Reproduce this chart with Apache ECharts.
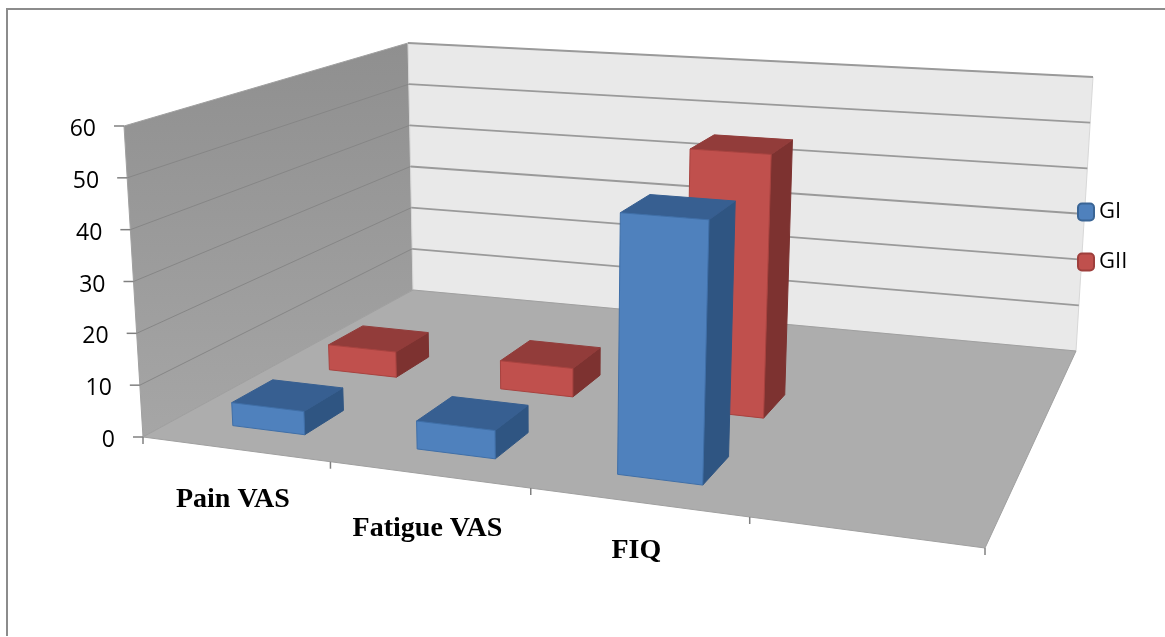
<!DOCTYPE html>
<html>

<head>
    <meta charset="utf-8">
    <title>Pain VAS, Fatigue VAS, FIQ</title>
    <script src="https://cdnjs.cloudflare.com/ajax/libs/echarts/6.0.0/echarts.min.js"></script>
    <style>
        html, body { margin: 0; padding: 0; background: #fff; overflow: hidden; }
    </style>
</head>

<body>
    <div id="main" style="width: 1165px;height:637px;"></div>
    <script type="text/javascript">
    // data
    var categories = ['Pain VAS', 'Fatigue VAS', 'FIQ', ''];
    var valueTicks = [0, 10, 20, 30, 40, 50, 60];
    var giValues = [4.5, 5.3, 48, null];
    var giiValues = [5.3, 5.8, 52.2, null];

    // -----box layout, corners of the floor and of the top of the box
    // order: front left, front right, back right, back left
    var floorCorners = [[143, 437], [985, 548], [1076, 351], [413, 290]];
    var topCorners = [[124, 126], [1010, 190], [1093, 77], [408, 43]];
    var rowCount = 3;       // the sheet has a third, empty depth row
    var barShare = 0.4;     // bar size inside its cell
    var catNudge = 0.005;   // inner ticks and bars sit a little right of the even split
    var catLabelDrop = [51, 55, 49];
    var catLabelShift = [0, 3, 3];

    function quad(c) {
        var dx1 = c[1][0] - c[2][0], dx2 = c[3][0] - c[2][0], sx = c[0][0] - c[1][0] + c[2][0] - c[3][0];
        var dy1 = c[1][1] - c[2][1], dy2 = c[3][1] - c[2][1], sy = c[0][1] - c[1][1] + c[2][1] - c[3][1];
        var den = dx1 * dy2 - dx2 * dy1;
        var g = (sx * dy2 - dx2 * sy) / den;
        var h = (dx1 * sy - sx * dy1) / den;
        return function (u, v) {
            var w = g * u + h * v + 1;
            return [
                ((c[1][0] - c[0][0] + g * c[1][0]) * u + (c[3][0] - c[0][0] + h * c[3][0]) * v + c[0][0]) / w,
                ((c[1][1] - c[0][1] + g * c[1][1]) * u + (c[3][1] - c[0][1] + h * c[3][1]) * v + c[0][1]) / w
            ];
        };
    }
    var floorAt = quad(floorCorners);
    var topAt = quad(topCorners);

    // u along categories, v into depth, t up the value axis (all 0..1)
    function project(u, v, t) {
        var a = floorAt(u, v), b = topAt(u, v);
        return [a[0] + (b[0] - a[0]) * t, a[1] + (b[1] - a[1]) * t];
    }

    // the hidden grid gives u and t from the axis scales
    function toBox(params, api, cat, val) {
        var cs = params.coordSys;
        var p = api.coord([cat, val]);
        return { u: (p[0] - cs.x) / cs.width, t: (cs.y + cs.height - p[1]) / cs.height };
    }

    function poly(points, fill, stroke) {
        return {
            type: 'polygon',
            shape: { points: points },
            style: { fill: fill, stroke: stroke || fill, lineWidth: 1 }
        };
    }

    function line(a, b, color, width) {
        return {
            type: 'line',
            shape: { x1: a[0], y1: a[1], x2: b[0], y2: b[1] },
            style: { stroke: color, lineWidth: width }
        };
    }

    function renderBox(params, api) {
        var kids = [];
        var tickY = valueTicks.map(function (tick) { return toBox(params, api, 0, tick).t; });
        var lastCat = categories.length;

        kids.push(poly([project(0, 0, 0), project(0, 1, 0), project(0, 1, 1), project(0, 0, 1)], {
            type: 'linear', x: 0, y: 0, x2: 0, y2: 1,
            colorStops: [{ offset: 0, color: '#8f8f8f' }, { offset: 1, color: '#a6a6a6' }]
        }, '#a0a0a0'));
        kids.push(poly([project(0, 1, 0), project(1, 1, 0), project(1, 1, 1), project(0, 1, 1)], '#e9e9e9', '#d8d8d8'));
        kids.push(poly([project(0, 0, 0), project(1, 0, 0), project(1, 1, 0), project(0, 1, 0)], '#adadad', '#a0a0a0'));

        tickY.forEach(function (t, i) {
            if (t > 0) {
                if (t < 1) kids.push(line(project(0, 0, t), project(0, 1, t), '#868686', 1));
                kids.push(line(project(0, 1, t), project(1, 1, t), '#9a9a9a', 1.8));
            }
            var p = project(0, 0, t);
            kids.push(line([p[0] - 10, p[1]], p, '#808080', 1.5));
            kids.push({
                type: 'text',
                style: {
                    x: p[0] - 28, y: p[1] + 3.5, text: String(valueTicks[i]),
                    fill: '#000', font: '23px "Open Sans"', align: 'right', verticalAlign: 'middle'
                }
            });
        });

        for (var i = 0; i <= lastCat; i++) {
            var inner = i > 0 && i < lastCat;
            var p = project(i / lastCat + (inner ? catNudge : 0), 0, 0);
            kids.push(line(p, [p[0], p[1] + 7], '#808080', 1.5));
            if (categories[i]) {
                var mid = project((i + 0.5) / lastCat, 0, 0);
                kids.push({
                    type: 'text',
                    style: {
                        x: mid[0] + catLabelShift[i], y: mid[1] + catLabelDrop[i], text: categories[i],
                        fill: '#000', font: 'bold 28px "Liberation Serif"', align: 'center', verticalAlign: 'middle'
                    }
                });
            }
        }
        return { type: 'group', children: kids };
    }

    function barRenderer(row, front, frontEdge, top, side) {
        return function (params, api) {
            if (api.value(1) == null || isNaN(api.value(1))) return;
            var cat = api.value(0);
            var base = toBox(params, api, cat, 0);
            var head = toBox(params, api, cat, api.value(1));
            var du = barShare / categories.length / 2;
            var dv = barShare / rowCount / 2;
            var v = (row + 0.5) / rowCount;
            var u0 = base.u + catNudge - du, u1 = base.u + catNudge + du, v0 = v - dv, v1 = v + dv, t = head.t;
            return {
                type: 'group',
                children: [
                    poly([project(u1, v0, 0), project(u1, v1, 0), project(u1, v1, t), project(u1, v0, t)], side),
                    poly([project(u0, v0, t), project(u1, v0, t), project(u1, v1, t), project(u0, v1, t)], top),
                    poly([project(u0, v0, 0), project(u1, v0, 0), project(u1, v0, t), project(u0, v0, t)], front, frontEdge)
                ]
            };
        };
    }

    var myChart = echarts.init(document.getElementById('main'));

    var option = {
        animation: false,
        backgroundColor: '#fff',
        graphic: [{
            type: 'polyline',
            shape: { points: [[7, 636], [7, 9], [1165, 9]] },
            style: { stroke: '#8c8c8c', lineWidth: 2, fill: null }
        }],
        legend: {
            data: ['GI', 'GII'],
            orient: 'vertical',
            left: 1072,
            top: 196,
            itemWidth: 16,
            itemHeight: 17,
            itemGap: 28,
            icon: 'roundRect',
            textStyle: { fontFamily: 'Open Sans', fontSize: 22, color: '#000', padding: [0, 0, 0, 0] }
        },
        grid: { left: 100, right: 100, top: 100, bottom: 100 },
        xAxis: { type: 'category', data: categories, show: false },
        yAxis: { type: 'value', min: 0, max: 60, interval: 10, show: false },
        series: [
            {
                name: 'box',
                type: 'custom',
                silent: true,
                renderItem: renderBox,
                data: [[0, 0]],
                encode: { x: 0, y: 1 },
                clip: false
            },
            {
                name: 'GII',
                type: 'custom',
                renderItem: barRenderer(1, '#c0504d', '#a8423f', '#923c3a', '#7d3230'),
                itemStyle: { color: '#c0504d', borderColor: '#9e3f3c', borderWidth: 1 },
                data: giiValues.map(function (val, i) { return [i, val]; }),
                encode: { x: 0, y: 1 },
                clip: false
            },
            {
                name: 'GI',
                type: 'custom',
                renderItem: barRenderer(0, '#4f81bd', '#3f6fa8', '#375f91', '#2f5582'),
                itemStyle: { color: '#4f81bd', borderColor: '#3a6595', borderWidth: 1 },
                data: giValues.map(function (val, i) { return [i, val]; }),
                encode: { x: 0, y: 1 },
                clip: false
            }
        ]
    };

    myChart.setOption(option);
    </script>
</body>

</html>
